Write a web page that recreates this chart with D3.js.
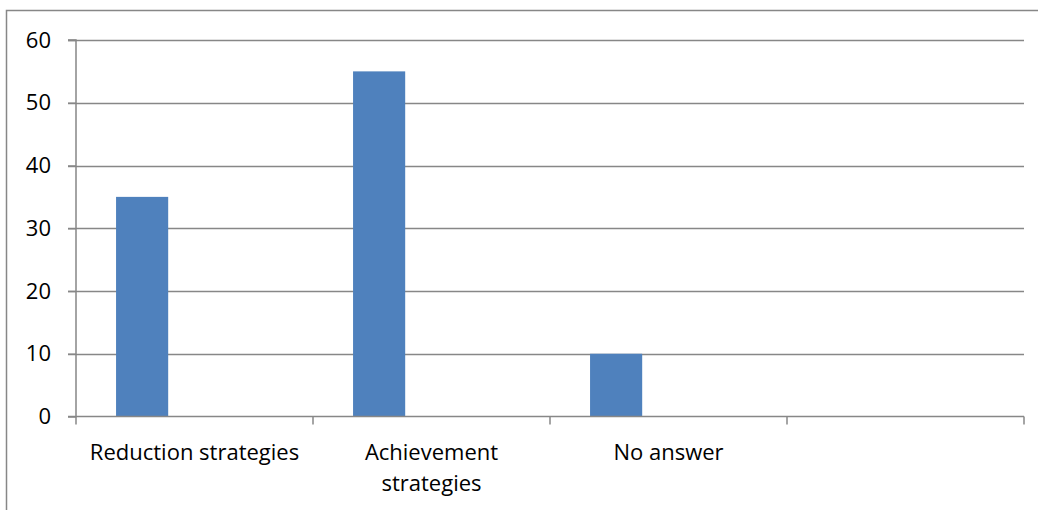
<!DOCTYPE html>
<html><head><meta charset="utf-8">
<script src="https://cdn.jsdelivr.net/npm/d3@7"></script>
<style>body{margin:0;background:#fff}svg{display:block}</style>
</head><body>
<script>
const categories = [["Reduction strategies"], ["Achievement", "strategies"], ["No answer"], [""]];
const values = [35, 55, 10, null];
const yTicks = [0, 10, 20, 30, 40, 50, 60];

(function() {
const W = 1038, H = 510;
const svg = d3.select("body").append("svg").attr("width", W).attr("height", H);
const grey = "#878787";
const font = "'Open Sans', 'Liberation Sans', sans-serif";

// outer border
svg.append("rect").attr("x", 6.5).attr("y", 10.5).attr("width", W + 10).attr("height", H + 10)
  .attr("fill", "none").attr("stroke", grey).attr("stroke-width", 1.5);

const pLeft = 76, pRight = 1024, pTop = 40, pBottom = 416.5;
const idx = categories.map((d, i) => i);
const x = d3.scaleBand().domain(idx).range([pLeft, pRight]).paddingInner(0).paddingOuter(0);
const y = d3.scaleLinear().domain([0, 60]).range([pBottom, pTop]);

// gridlines
svg.append("g").selectAll("line").data(yTicks.filter(t => t > 0)).join("line")
  .attr("x1", pLeft - 8).attr("x2", pRight).attr("y1", d => Math.round(y(d)) + 0.5).attr("y2", d => Math.round(y(d)) + 0.5)
  .attr("stroke", grey).attr("stroke-width", 1.5);

// bars
const bw = x.bandwidth();
svg.append("g").selectAll("rect").data(values.map((v, i) => ({v, i})).filter(d => d.v != null)).join("rect")
  .attr("x", d => x(d.i) + bw * 0.169).attr("width", bw * 0.22)
  .attr("y", d => y(d.v)).attr("height", d => y(0) - y(d.v))
  .attr("fill", "#4F81BD");

// y axis
const ya = svg.append("g").attr("transform", `translate(${pLeft},0)`)
  .call(d3.axisLeft(y).tickValues(yTicks).tickSize(8).tickPadding(17).tickFormat(d3.format("d")));
ya.select(".domain").attr("stroke", grey).attr("stroke-width", 1.5).attr("d", `M-8,${pTop}H0V${pBottom}H-8`);
ya.selectAll(".tick line").attr("stroke", grey).attr("stroke-width", 1.5);
ya.selectAll(".tick text").attr("font-family", font).attr("font-size", 22).attr("fill", "#000");

// x axis
const xa = svg.append("g").attr("transform", `translate(0,${pBottom})`);
xa.append("line").attr("x1", pLeft).attr("x2", pRight).attr("y1", 0).attr("y2", 0).attr("stroke", grey).attr("stroke-width", 1.5);
const tickXs = idx.map(i => x(i)).concat([pRight]);
xa.selectAll("line.t").data(tickXs).join("line").attr("class", "t")
  .attr("x1", d => d).attr("x2", d => d).attr("y1", 0).attr("y2", 8).attr("stroke", grey).attr("stroke-width", 1.5);
xa.selectAll("text").data(categories).join("text")
  .attr("x", (d, i) => x(i) + bw / 2).attr("y", 43)
  .attr("text-anchor", "middle").attr("font-family", font).attr("font-size", 22).attr("fill", "#000")
  .each(function(d) {
    const t = d3.select(this);
    d.forEach((line, j) => t.append("tspan").attr("x", t.attr("x")).attr("dy", j === 0 ? 0 : 31).text(line));
  });
})();
</script>
</body></html>
